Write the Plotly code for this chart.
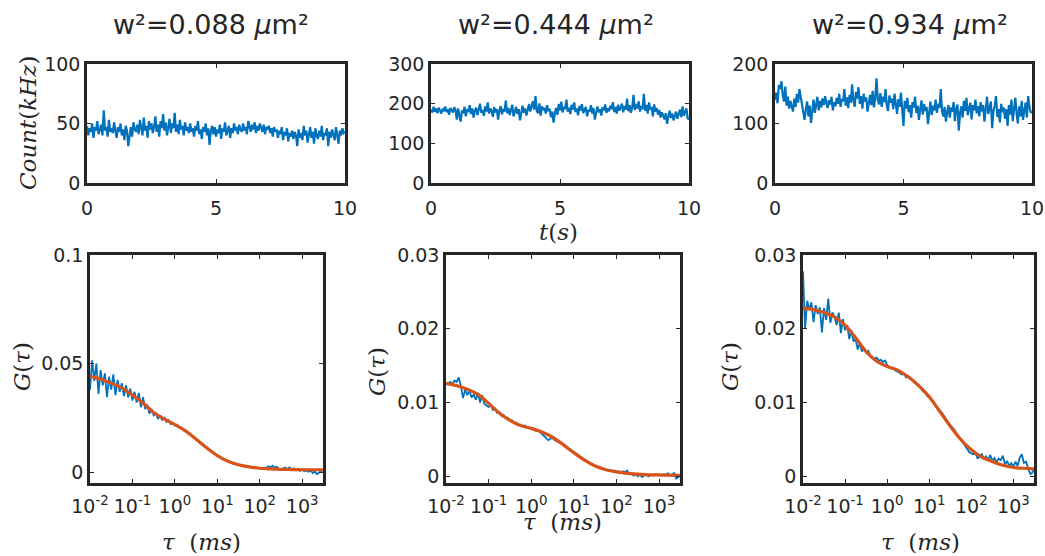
import plotly.graph_objects as go

W, H = 1045, 556

# ---------------- data ----------------
titles = ["w²=0.088 <i>μ</i>m²", "w²=0.444 <i>μ</i>m²", "w²=0.934 <i>μ</i>m²"]

# time axis of count traces (s), 0.05 s steps
t_sec = [round(i * 0.05, 2) for i in range(201)]

count_1 = [48, 40, 46, 43, 50, 38, 47, 44, 52, 41, 45, 49, 40, 61, 44, 47, 39, 53, 43, 46,
           42, 51, 44, 38, 47, 43, 50, 40, 45, 36, 48, 44, 31, 42, 47, 39, 51, 45, 43, 49,
           41, 53, 46, 40, 55, 44, 48, 38, 52, 45, 50, 42, 47, 56, 43, 49, 39, 52, 46, 58,
           44, 51, 40, 48, 54, 42, 50, 46, 59, 43, 49, 41, 53, 45, 48, 40, 51, 44, 47, 42,
           50, 43, 46, 39, 48, 44, 52, 41, 45, 37, 47, 43, 50, 40, 46, 32, 44, 48, 41, 47,
           39, 45, 42, 49, 37, 46, 43, 51, 40, 44, 48, 38, 46, 42, 50, 44, 47, 41, 49, 45,
           43, 50, 44, 47, 41, 52, 46, 43, 49, 45, 51, 42, 48, 44, 50, 46, 43, 49, 41, 47,
           45, 48, 42, 46, 39, 47, 43, 45, 38, 44, 41, 47, 36, 43, 40, 46, 35, 42, 39, 44,
           37, 43, 40, 31, 45, 38, 42, 36, 48, 40, 44, 34, 41, 47, 38, 43, 33, 46, 40, 37,
           44, 39, 48, 36, 42, 40, 46, 31, 43, 38, 45, 41, 36, 47, 39, 33, 44, 40, 46, 42,
           43]

count_2 = [185, 178, 192, 180, 188, 176, 190, 183, 175, 187, 181, 193, 179, 186, 172, 189, 182, 178, 191, 184,
           160, 188, 170, 155, 183, 176, 192, 168, 186, 179, 196, 174, 188, 165, 182, 190, 171, 185, 200, 177,
           184, 169, 193, 180, 203, 175, 188, 182, 167, 191, 178, 186, 160, 183, 194, 173, 187, 180, 208, 176,
           189, 171, 185, 197, 168, 182, 192, 174, 186, 158, 181, 195, 177, 188, 170, 184, 199, 180, 190, 206,
           185, 219, 182, 176, 201, 170, 193, 184, 189, 175, 196, 181, 187, 166, 180, 152, 176, 189, 172, 199,
           183, 205, 178, 192, 186, 210, 180, 190, 174, 197, 185, 203, 179, 188, 171, 194, 183, 199, 176, 187,
           192, 168, 184, 180, 196, 175, 189, 160, 182, 193, 178, 186, 170, 191, 183, 198, 177, 188, 181, 195,
           186, 204, 179, 192, 175, 197, 183, 189, 200, 178, 194, 185, 213, 181, 196, 177, 190, 222, 184, 199,
           188, 206, 180, 194, 186, 225, 182, 197, 175, 203, 185, 192, 168, 198, 180, 189, 172, 184, 165, 178,
           170, 160, 176, 149, 168, 182, 164, 175, 158, 171, 180, 162, 174, 185, 166, 193, 170, 178, 188, 163,
           160]

count_3 = [140, 152, 134, 165, 158, 171, 148, 137, 162, 130, 145, 125, 138, 131, 120, 142, 128, 150, 135, 158,
           145, 128, 117, 106, 124, 137, 112, 130, 101, 126, 140, 118, 133, 145, 122, 138, 127, 142, 131, 146,
           134, 126, 139, 132, 145, 122, 136, 129, 143, 133, 150, 128, 141, 137, 158, 130, 144, 126, 148, 135,
           166, 139, 128, 153, 142, 161, 133, 146, 125, 150, 137, 144, 120, 139, 148, 131, 155, 127, 143, 176,
           140, 132, 151, 128, 145, 136, 158, 130, 121, 147, 135, 142, 124, 150, 133, 116, 141, 128, 152, 130,
           96, 138, 125, 143, 119, 131, 110, 136, 127, 145, 118, 130, 106, 124, 139, 115, 133, 121, 128, 99,
           125, 137, 114, 130, 122, 140, 118, 133, 126, 158, 120, 112, 128, 103, 119, 131, 110, 127, 120, 136,
           104, 125, 132, 88, 118, 129, 110, 138, 121, 143, 114, 126, 135, 107, 131, 122, 140, 117, 129, 112,
           136, 120, 131, 103, 125, 145, 116, 128, 137, 92, 121, 130, 146, 111, 124, 102, 133, 119, 127, 108,
           124, 96, 131, 115, 140, 104, 126, 143, 117, 100, 129, 112, 138, 106, 122, 135, 110, 146, 128, 118,
           120]

# correlation lag grid: log10(tau/ms), 0.05 decade steps for data, 0.25 for the fit
tau_exp_data = [round(-2 + i * 0.05, 2) for i in range(111)]
tau_exp_fit = [round(-2 + i * 0.25, 2) for i in range(23)]

G_data_1 = [.0380, .0515, .0420, .0500, .0360, .0470, .0400, .0455, .0345, .0440,
            .0380, .0450, .0355, .0425, .0370, .0410, .0350, .0400, .0345, .0385,
            .0330, .0370, .0320, .0365, .0300, .0345, .0290, .0310, .0270, .0290,
            .0262, .0272, .0245, .0262, .0240, .0250, .0232, .0240, .0222, .0228,
            .0215, .0218, .0205, .0206, .0192, .0191, .0180, .0178, .0165, .0161,
            .0150, .0146, .0132, .0130, .0118, .0113, .0101, .0098, .0088, .0085,
            .0077, .0069, .0066, .0057, .0056, .0048, .0047, .0041, .0042, .0035,
            .0035, .0030, .0031, .0026, .0027, .0023, .0024, .0020, .0022, .0019,
            .0020, .0016, .0022, .0019, .0027, .0022, .0030, .0021, .0025, .0015,
            .0012, .0016, .0021, .0014, .0022, .0013, .0018, .0009, .0015, .0006,
            .0012, .0004, .0008, .0002, .0007, -.0004, .0003, -.0010, -.0002, .0006,
            .0009]
G_fit_1 = [.0441, .0428, .0410, .0388, .0355, .0318, .0275, .0245, .0219, .0190,
           .0152, .0112, .0076, .0050, .0034, .0024, .0018, .0015, .0013, .0012,
           .0011, .0011, .0011]

G_data_2 = [.0124, .0126, .0128, .0125, .0130, .0128, .0134, .0122, .0106, .0118,
            .0110, .0116, .0107, .0111, .0104, .0113, .0100, .0110, .0098, .0096,
            .0094, .0097, .0090, .0092, .0086, .0087, .0082, .0083, .0079, .0079,
            .0075, .0076, .0072, .0073, .0069, .0070, .0067, .0069, .0066, .0066,
            .0064, .0065, .0062, .0063, .0060, .0058, .0054, .0052, .0049, .0051,
            .0052, .0049, .0048, .0046, .0045, .0043, .0041, .0039, .0037, .0034,
            .0032, .0030, .0028, .0026, .0024, .0023, .0020, .0019, .0017, .0016,
            .0014, .0013, .0012, .0011, .0010, .0010, .0008, .0009, .0007, .0008,
            .0006, .0007, .0005, .0007, .0006, .0008, .0003, .0004, .0001, .0003,
            .0000, .0002, -.0001, .0001, .0003, .0000, .0002, .0001, .0003, .0002,
            .0002, .0001, .0003, .0002, .0004, .0003, .0001, .0005, -.0003, -.0001,
            .0002]
G_fit_2 = [.0126, .0123, .0118, .0111, .0099, .0086, .0076, .0069, .0065, .0060,
           .0053, .0043, .0032, .0022, .0014, .0009, .0006, .0004, .0003, .0002,
           .0002, .00015, .00015]

G_data_3 = [.0278, .0200, .0238, .0226, .0236, .0209, .0232, .0220, .0229, .0195,
            .0228, .0212, .0241, .0208, .0222, .0216, .0205, .0222, .0194, .0213,
            .0198, .0205, .0186, .0198, .0183, .0186, .0172, .0181, .0169, .0174,
            .0168, .0170, .0164, .0162, .0159, .0161, .0157, .0158, .0155, .0157,
            .0151, .0148, .0146, .0147, .0143, .0142, .0140, .0138, .0139, .0134,
            .0136, .0132, .0131, .0127, .0125, .0122, .0120, .0115, .0114, .0109,
            .0107, .0103, .0101, .0096, .0093, .0089, .0086, .0082, .0077, .0074,
            .0069, .0066, .0063, .0058, .0053, .0050, .0046, .0041, .0036, .0033,
            .0031, .0030, .0031, .0024, .0028, .0030, .0023, .0027, .0022, .0029,
            .0021, .0025, .0019, .0024, .0022, .0028, .0016, .0021, .0014, .0018,
            .0013, .0020, .0014, .0025, .0030, .0018, .0020, .0010, .0003, .0005,
            .0012]
G_fit_3 = [.0228, .0226, .0222, .0216, .0205, .0188, .0169, .0156, .0149, .0144,
           .0135, .0123, .0108, .0088, .0068, .0050, .0036, .0026, .0020, .0015,
           .0012, .0011, .0010]

count_ticks = [[0, 50, 100], [0, 100, 200, 300], [0, 100, 200]]
count_ranges = [[0, 100], [0, 300], [0, 200]]
G_ticks = [[0, 0.05, 0.1], [0, 0.01, 0.02, 0.03], [0, 0.01, 0.02, 0.03]]
G_ticktext = [["0", "0.05", "0.1"], ["0", "0.01", "0.02", "0.03"], ["0", "0.01", "0.02", "0.03"]]
G_ranges = [[-0.005, 0.1], [-0.0009, 0.03], [-0.0009, 0.03]]
time_ticks = [0, 5, 10]
tau_tickvals = [0.01, 0.1, 1, 10, 100, 1000]
tau_ticktext = ["10<sup>-2</sup>", "10<sup>-1</sup>", "10<sup>0</sup>",
                "10<sup>1</sup>", "10<sup>2</sup>", "10<sup>3</sup>"]

# ---------------- layout geometry (pixels) ----------------
top_x_px = [(87, 345), (431, 689), (775, 1032)]
top_y_px = (64, 183)
bot_x_px = [(90, 323), (446, 680), (803, 1034)]
bot_y_px = (255, 483)

def xd(a, b):
    return [a / W, b / W]

def yd(top, bottom):
    return [1 - bottom / H, 1 - top / H]

BLUE = "#0072BD"
ORANGE = "#D95319"
AX = "#262626"
TICKFONT = dict(family="DejaVu Sans, sans-serif", size=19, color=AX)

fig = go.Figure()
layout = dict(width=W, height=H, margin=dict(l=0, r=0, t=0, b=0, autoexpand=False),
              paper_bgcolor="white", plot_bgcolor="white", showlegend=False)

common = dict(showline=True, linewidth=2.5, linecolor=AX, mirror="ticks",
              ticks="inside", ticklen=4, tickwidth=1, tickcolor=AX,
              showgrid=False, zeroline=False, tickfont=TICKFONT)

counts = [count_1, count_2, count_3]
G_data = [G_data_1, G_data_2, G_data_3]
G_fit = [G_fit_1, G_fit_2, G_fit_3]
tau_data = [10 ** e for e in tau_exp_data]
tau_fit = [10 ** e for e in tau_exp_fit]

for i in range(3):
    n_top = 2 * i + 1
    n_bot = 2 * i + 2
    sx = "" if n_top == 1 else str(n_top)
    bx = str(n_bot)
    fig.add_trace(go.Scatter(x=t_sec, y=counts[i], mode="lines",
                             line=dict(color=BLUE, width=2.2),
                             xaxis="x" + sx, yaxis="y" + sx))
    fig.add_trace(go.Scatter(x=tau_data, y=G_data[i], mode="lines",
                             line=dict(color=BLUE, width=1.8),
                             xaxis="x" + bx, yaxis="y" + bx))
    fig.add_trace(go.Scatter(x=tau_fit, y=G_fit[i], mode="lines",
                             line=dict(color=ORANGE, width=3.2, shape="spline"),
                             xaxis="x" + bx, yaxis="y" + bx))

    layout["xaxis" + sx] = dict(domain=xd(*top_x_px[i]), anchor="y" + sx,
                                range=[0, 10], tickvals=time_ticks,
                                ticklabelstandoff=6, **common)
    layout["yaxis" + sx] = dict(domain=yd(*top_y_px), anchor="x" + sx,
                                range=count_ranges[i], tickvals=count_ticks[i], **common)
    layout["xaxis" + bx] = dict(domain=xd(*bot_x_px[i]), anchor="y" + bx,
                                type="log", range=[-2, 3.49],
                                tickvals=tau_tickvals, ticktext=tau_ticktext,
                                ticklabelstandoff=4, **common)
    layout["yaxis" + bx] = dict(domain=yd(*bot_y_px), anchor="x" + bx,
                                range=G_ranges[i], tickvals=G_ticks[i],
                                ticktext=G_ticktext[i], **common)

SERIF = dict(family="DejaVu Serif, serif", size=23, color=AX)
ann = []
title_px = [210.5, 556, 910]
for i in range(3):
    ann.append(dict(text=titles[i], x=title_px[i] / W, y=1 - 24.5 / H,
                    xref="paper", yref="paper", xanchor="center", yanchor="middle",
                    showarrow=False,
                    font=dict(family="DejaVu Sans, sans-serif", size=27, color=AX)))

ann.append(dict(text="<i>Count</i>(<i>kHz</i>)", x=28 / W, y=1 - 123 / H, textangle=-90,
                xref="paper", yref="paper", xanchor="center", yanchor="middle",
                showarrow=False, font=SERIF))
ann.append(dict(text="<i>t</i>(<i>s</i>)", x=558 / W, y=1 - 232 / H,
                xref="paper", yref="paper", xanchor="center", yanchor="middle",
                showarrow=False, font=SERIF))
for (gx, gy) in [(22, 367), (377, 372), (730, 367)]:
    ann.append(dict(text="<i>G</i>(<i>τ</i>)", x=gx / W, y=1 - gy / H, textangle=-90,
                    xref="paper", yref="paper", xanchor="center", yanchor="middle",
                    showarrow=False, font=SERIF))
for (tx, ty) in [(201, 542), (562, 522), (920, 542)]:
    ann.append(dict(text="<i>τ</i>\u00a0\u00a0(<i>ms</i>)", x=tx / W, y=1 - ty / H,
                    xref="paper", yref="paper", xanchor="center", yanchor="middle",
                    showarrow=False, font=SERIF))

layout["annotations"] = ann
fig.update_layout(**layout)
fig.write_html("out.html", config={"displayModeBar": False},
               post_script="document.body.style.margin='0px';document.body.style.overflow='hidden';")
